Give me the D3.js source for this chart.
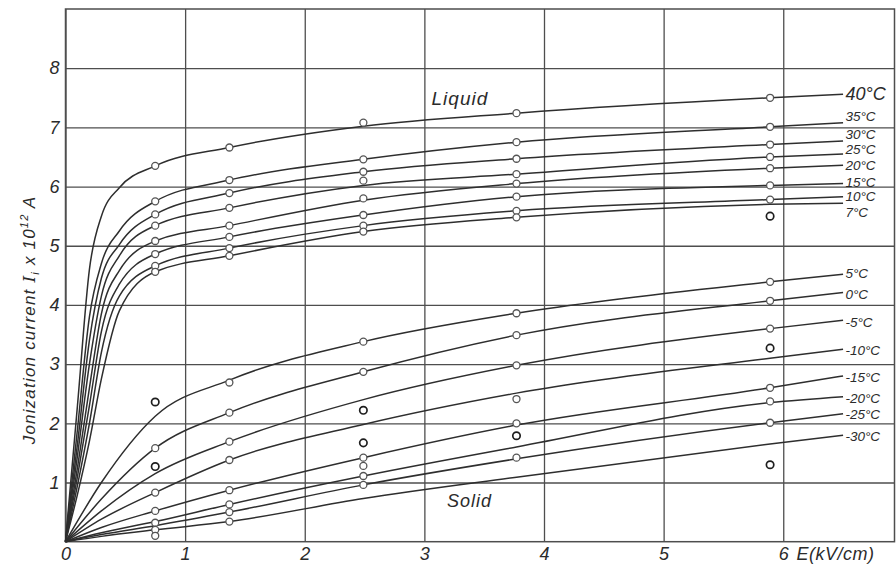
<script src="https://d3js.org/d3.v7.min.js"></script>

<style>
  body { margin: 0; background: #fff; }
  text { font-family: "Liberation Sans", Arial, sans-serif; font-style: italic; fill: #2b2b2b; }
</style>

<div id="container"></div>

<script>
// field strength E (kV/cm) where the curves were read
var liquidE = [0, 0.1, 0.2, 0.3, 0.45, 0.75, 1.37, 2.49, 3.77, 5.89, 6.5];
var solidE = [0, 0.3, 0.75, 1.37, 2.49, 3.77, 5.89, 6.5];

var liquidLabels = ['40°C', '35°C', '30°C', '25°C', '20°C', '15°C', '10°C', '7°C'];
var solidLabels = ['5°C', '0°C', '-5°C', '-10°C', '-15°C', '-20°C', '-25°C', '-30°C'];

// ionization current (x 10^12 A)
var liquidI = [
  [0, 2.3, 4.6, 5.5, 5.98, 6.35, 6.66, 7.02, 7.24, 7.50, 7.56],
  [0, 1.9, 3.8, 4.7, 5.25, 5.75, 6.11, 6.46, 6.75, 7.01, 7.08],
  [0, 1.65, 3.4, 4.45, 5.02, 5.53, 5.89, 6.25, 6.47, 6.71, 6.77],
  [0, 1.45, 3.0, 4.15, 4.83, 5.34, 5.64, 6.02, 6.21, 6.50, 6.55],
  [0, 1.25, 2.6, 3.85, 4.58, 5.08, 5.34, 5.77, 6.05, 6.31, 6.36],
  [0, 1.1, 2.3, 3.55, 4.35, 4.86, 5.15, 5.52, 5.83, 6.02, 6.05],
  [0, 0.95, 2.0, 3.2, 4.15, 4.66, 4.96, 5.34, 5.59, 5.78, 5.83],
  [0, 0.8, 1.7, 2.75, 3.9, 4.56, 4.83, 5.24, 5.48, 5.70, 5.72]
];
var solidI = [
  [0, 1.0, 2.12, 2.73, 3.38, 3.86, 4.39, 4.52],
  [0, 0.72, 1.58, 2.18, 2.87, 3.49, 4.07, 4.21],
  [0, 0.52, 1.15, 1.69, 2.40, 2.98, 3.60, 3.74],
  [0, 0.38, 0.83, 1.38, 1.98, 2.51, 3.10, 3.25],
  [0, 0.24, 0.52, 0.87, 1.42, 1.97, 2.60, 2.80],
  [0, 0.15, 0.34, 0.63, 1.11, 1.60, 2.35, 2.45],
  [0, 0.12, 0.27, 0.50, 0.96, 1.40, 2.01, 2.16],
  [0, 0.09, 0.20, 0.34, 0.73, 1.09, 1.65, 1.80]
];

// where the curve labels sit
var labelE = 6.52;
var liquidLabelI = [7.57, 7.18, 6.88, 6.63, 6.36, 6.08, 5.83, 5.57];
var solidLabelI = [4.53, 4.18, 3.71, 3.24, 2.77, 2.42, 2.15, 1.78];

// measured points, one list per column of E
var markerE = [0.75, 1.37, 2.49, 3.77, 5.89];
var markerI = [
  [6.35, 5.75, 5.53, 5.34, 5.08, 4.86, 4.66, 4.56, 1.58, 0.83, 0.52, 0.32, 0.20, 0.10],
  [6.66, 6.11, 5.89, 5.64, 5.34, 5.15, 4.96, 4.83, 2.69, 2.18, 1.69, 1.38, 0.87, 0.63, 0.50, 0.34],
  [7.08, 6.46, 6.25, 6.10, 5.80, 5.52, 5.34, 5.24, 3.38, 2.87, 1.42, 1.28, 1.11, 0.96],
  [7.24, 6.75, 6.47, 6.21, 6.05, 5.83, 5.59, 5.48, 3.86, 3.49, 2.98, 2.41, 2.00, 1.42],
  [7.50, 7.01, 6.71, 6.50, 6.31, 6.02, 5.78, 4.39, 4.07, 3.60, 2.60, 2.37, 2.01]
];
// stray points off the curves
var strayE = [0.75, 0.75, 2.49, 2.49, 3.77, 5.89, 5.89, 5.89];
var strayI = [2.36, 1.27, 2.22, 1.67, 1.79, 5.50, 3.27, 1.30];

var xTicks = [0, 1, 2, 3, 4, 5, 6];
var yTicks = [1, 2, 3, 4, 5, 6, 7, 8];

var width = 896, height = 566;

var svg = d3.select("#container").append("svg")
  .attr("width", width)
  .attr("height", height);

var x = d3.scaleLinear().domain([0, 6.93]).range([65.5, 894.5]);
var y = d3.scaleLinear().domain([0, 9]).range([541.7, 9]);

var gridColor = "#4e4e4e";

// grid + tick labels from the axes
var xAxis = svg.append("g")
  .attr("transform", "translate(0," + y(0) + ")")
  .call(d3.axisBottom(x).tickValues(xTicks).tickSize(-(y(0) - y(9))).tickPadding(6).tickFormat(d3.format("d")));
var yAxis = svg.append("g")
  .attr("transform", "translate(" + x(0) + ",0)")
  .call(d3.axisLeft(y).tickValues(yTicks).tickSize(-(x(6.93) - x(0))).tickPadding(6).tickFormat(d3.format("d")));

[xAxis, yAxis].forEach(function (g) {
  g.select(".domain").remove();
  g.selectAll(".tick line").attr("stroke", gridColor).attr("stroke-width", 1.3);
  g.selectAll(".tick text")
    .attr("fill", "#2b2b2b")
    .style("font-family", "Liberation Sans, Arial, sans-serif")
    .style("font-style", "italic")
    .style("font-size", "18px");
});

// frame
svg.append("rect")
  .attr("x", x(0)).attr("y", y(9))
  .attr("width", x(6.93) - x(0)).attr("height", y(0) - y(9))
  .attr("fill", "none").attr("stroke", gridColor).attr("stroke-width", 1.5);

// curves
var line = d3.line()
  .x(function (d) { return x(d[0]); })
  .y(function (d) { return y(d[1]); })
  .curve(d3.curveMonotoneX);

function drawCurves(es, series) {
  svg.append("g")
    .selectAll("path")
    .data(series)
    .enter()
    .append("path")
      .attr("d", function (vals) { return line(vals.map(function (v, i) { return [es[i], v]; })); })
      .attr("fill", "none")
      .attr("stroke", "#2e2e2e")
      .attr("stroke-width", 1.5);
}
drawCurves(liquidE, liquidI);
drawCurves(solidE, solidI);

// measured points
var pts = [];
markerI.forEach(function (col, c) {
  col.forEach(function (v) { pts.push([markerE[c], v]); });
});
svg.append("g")
  .selectAll("circle")
  .data(pts)
  .enter()
  .append("circle")
    .attr("cx", function (d) { return x(d[0]); })
    .attr("cy", function (d) { return y(d[1]); })
    .attr("r", 3.5)
    .attr("fill", "#fff")
    .attr("stroke", "#555")
    .attr("stroke-width", 1.3);

svg.append("g")
  .selectAll("circle")
  .data(strayE)
  .enter()
  .append("circle")
    .attr("cx", function (d) { return x(d); })
    .attr("cy", function (d, i) { return y(strayI[i]); })
    .attr("r", 3.7)
    .attr("fill", "#fff")
    .attr("stroke", "#1e1e1e")
    .attr("stroke-width", 1.7);

// curve labels
function drawLabels(labels, vals) {
  svg.append("g")
    .selectAll("text")
    .data(labels)
    .enter()
    .append("text")
      .attr("x", x(labelE))
      .attr("y", function (d, i) { return y(vals[i]); })
      .attr("dy", "0.35em")
      .style("font-size", function (d) { return d == "40°C" ? "18px" : "13.5px"; })
      .text(function (d) { return d; });
}
drawLabels(liquidLabels, liquidLabelI);
drawLabels(solidLabels, solidLabelI);

svg.append("text")
  .attr("x", x(3.06)).attr("y", y(7.37))
  .style("font-size", "19px").style("letter-spacing", "1px")
  .text("Liquid");

svg.append("text")
  .attr("x", x(3.19)).attr("y", y(0.59))
  .style("font-size", "18px").style("letter-spacing", "1px")
  .text("Solid");

// x axis title next to the 6
svg.append("text")
  .attr("x", x(6.11)).attr("y", 559.5)
  .style("font-size", "18px").style("letter-spacing", "0.5px")
  .text("E(kV/cm)");

// y axis title
var yt = svg.append("text")
  .attr("transform", "translate(35," + 320 + ") rotate(-90)")
  .attr("text-anchor", "middle")
  .style("font-size", "17px")
  .style("letter-spacing", "1.2px");
yt.append("tspan").text("Jonization  current ");
yt.append("tspan").style("font-family", "DejaVu Serif, serif").text("I");
yt.append("tspan").attr("dy", 4).style("font-size", "11px").text("i");
yt.append("tspan").attr("dy", -4).text(" x 10");
yt.append("tspan").attr("dy", -7).style("font-size", "11px").text("12");
yt.append("tspan").attr("dy", 7).text(" A");
</script>
